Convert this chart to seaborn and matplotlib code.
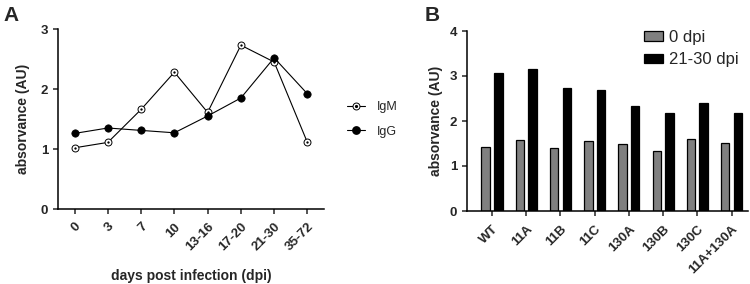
import numpy as np
import pandas as pd
import seaborn as sns
import matplotlib.pyplot as plt
from matplotlib.lines import Line2D
from matplotlib.patches import Patch
from matplotlib.legend_handler import HandlerTuple

# ---- data, panel A ----
dpi_groups = ['0', '3', '7', '10', '13-16', '17-20', '21-30', '35-72']
igm = [1.02, 1.11, 1.66, 2.28, 1.61, 2.73, 2.45, 1.11]
igg = [1.26, 1.35, 1.31, 1.27, 1.55, 1.85, 2.52, 1.92]

# ---- data, panel B ----
strains = ['WT', '11A', '11B', '11C', '130A', '130B', '130C', '11A+130A']
day0 = [1.43, 1.58, 1.41, 1.56, 1.50, 1.33, 1.60, 1.52]
day21_30 = [3.06, 3.16, 2.73, 2.69, 2.33, 2.18, 2.39, 2.17]

sns.set_style('ticks')
plt.rcParams['font.family'] = ['Liberation Sans', 'DejaVu Sans']
plt.rcParams['axes.linewidth'] = 1.1
plt.rcParams['xtick.major.width'] = 1.1
plt.rcParams['ytick.major.width'] = 1.1
plt.rcParams['xtick.major.size'] = 3.5
plt.rcParams['ytick.major.size'] = 3.5
plt.rcParams['xtick.major.pad'] = 5
plt.rcParams['axes.edgecolor'] = 'black'

W, H = 750, 284
fig = plt.figure(figsize=(W / 100, H / 100), dpi=100)

def px_axes(left, top, right, bottom):
    return fig.add_axes([left / W, 1 - bottom / H, (right - left) / W, (bottom - top) / H])

ax1 = px_axes(58, 29, 324, 209)
ax2 = px_axes(467, 31, 748, 211)

#---------- Panel A ----------
df_a = pd.DataFrame({'dpi': dpi_groups, 'IgM': igm, 'IgG': igg})

sns.lineplot(x='dpi', y='IgM', data=df_a, ax=ax1, color='black', lw=0.8,
             marker='o', markersize=5, markerfacecolor='white',
             markeredgecolor='black', markeredgewidth=0.7, sort=False)
sns.lineplot(x='dpi', y='IgM', data=df_a, ax=ax1, color='black', lw=0,
             marker='o', markersize=1.3, markerfacecolor='black',
             markeredgecolor='black', markeredgewidth=0.3, sort=False)
sns.lineplot(x='dpi', y='IgG', data=df_a, ax=ax1, color='black', lw=0.8,
             marker='o', markersize=5.3, markerfacecolor='black',
             markeredgecolor='black', markeredgewidth=0.5, sort=False)

ax1.set_xlim(-0.5, len(dpi_groups) - 0.5)
ax1.set_ylim(0, 3)
ax1.set_yticks([0, 1, 2, 3])
ax1.set_xlabel('days post infection (dpi)', fontsize=10, fontweight='bold')
ax1.xaxis.set_label_coords(0.5, -0.335)
ax1.set_ylabel('absorvance (AU)', fontsize=10, fontweight='bold', labelpad=8)
plt.setp(ax1.get_xticklabels(), rotation=45, ha='right', rotation_mode='anchor',
         fontsize=9.5, fontweight='bold')
plt.setp(ax1.get_yticklabels(), fontsize=9.5, fontweight='bold')
sns.despine(ax=ax1)

h_igm = (Line2D([], [], color='black', lw=0.8, marker='o', markersize=5,
                markerfacecolor='white', markeredgewidth=0.7),
         Line2D([], [], color='black', lw=0, marker='o', markersize=1.3))
h_igg = Line2D([], [], color='black', lw=0.8, marker='o', markersize=5.3)
ax1.legend([h_igm, h_igg], ['IgM', 'IgG'], handler_map={tuple: HandlerTuple(ndivide=1, pad=0)},
           loc='center left', bbox_to_anchor=(1.045, 0.497), frameon=False, fontsize=9,
           handlelength=1.45, handletextpad=0.9, labelspacing=1.0)

#---------- Panel B ----------
df_b = pd.DataFrame({'strain': strains * 2,
                     'value': day0 + day21_30,
                     'time': ['0 dpi'] * len(strains) + ['21-30 dpi'] * len(strains)})

sns.barplot(x='strain', y='value', hue='time', data=df_b, ax=ax2,
            palette=['#808080', 'black'], width=0.74, gap=0.33,
            edgecolor='black', linewidth=0.9, saturation=1)

ax2.set_xlim(-0.73, len(strains) - 0.52)
ax2.set_ylim(0, 4)
ax2.set_yticks([0, 1, 2, 3, 4])
ax2.set_xlabel('')
ax2.set_ylabel('absorvance (AU)', fontsize=10, fontweight='bold', labelpad=5)
plt.setp(ax2.get_xticklabels(), rotation=45, ha='right', rotation_mode='anchor',
         fontsize=9.5, fontweight='bold')
plt.setp(ax2.get_yticklabels(), fontsize=9.5, fontweight='bold')
sns.despine(ax=ax2)

ax2.legend(handles=[Patch(facecolor='#808080', edgecolor='black', lw=0.9, label='0 dpi'),
                    Patch(facecolor='black', edgecolor='black', lw=0.9, label='21-30 dpi')],
           loc='upper right', bbox_to_anchor=(1.021, 1.09), frameon=False, fontsize=12,
           handlelength=1.15, handleheight=0.5, handletextpad=0.36, labelspacing=0.45)

# panel letters
fig.text(3 / W, 1 - 21 / H, 'A', fontsize=15, fontweight='bold')
fig.text(425 / W, 1 - 21 / H, 'B', fontsize=15, fontweight='bold')

fig.savefig('out.png', dpi=100)
